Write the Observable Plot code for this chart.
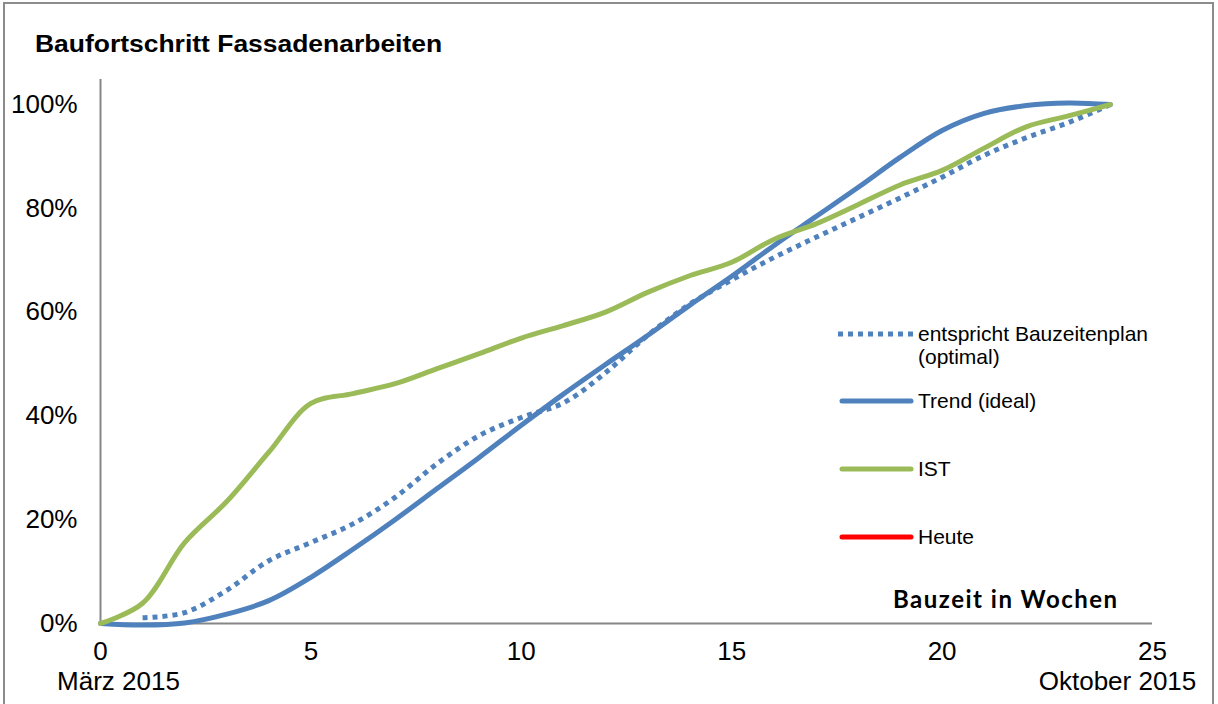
<!DOCTYPE html>
<html>
<head>
<meta charset="utf-8">
<script src="https://cdn.jsdelivr.net/npm/d3@7"></script>
<script src="https://cdn.jsdelivr.net/npm/@observablehq/plot@0.6"></script>
<style>
  body { margin: 0; background: #fff; font-family: "Liberation Sans", Arial, sans-serif; }
  #wrap { position: relative; width: 1218px; height: 704px; overflow: hidden; background: #fff; }
  #frame { position: absolute; left: 3px; top: 2px; width: 1211px; height: 760px; border: 2px solid #8c8c8c; box-sizing: border-box; pointer-events: none; }
  #title { position: absolute; left: 35px; top: 33px; font-weight: bold; font-size: 23px; line-height: 23px; white-space: nowrap; transform: scaleX(1.15); transform-origin: left top; color: #000; }
  #xlabel { position: absolute; left: 893px; top: 587px; font-family: Lato, sans-serif; font-weight: bold; font-size: 24px; line-height: 24px; letter-spacing: 1.5px; white-space: nowrap; color: #000; }
  #chart { position: absolute; left: 0; top: 0; }
  #legend { position: absolute; left: 0; top: 0; pointer-events: none; }
</style>
</head>
<body>
<div id="wrap">
  <div id="chart"></div>
  <div id="title">Baufortschritt Fassadenarbeiten</div>
  <div id="xlabel">Bauzeit in Wochen</div>
  <svg id="legend" width="1218" height="704"></svg>
  <div id="frame"></div>
</div>
<script>
// ---- data ----
const weeks = [0,1,2,3,4,5,6,7,8,9,10,11,12,13,14,15,16,17,18,19,20,21,22,23,24];
const planWeeks = [1,2,3,4,5,6,7,8,9,10,11,12,13,14,15,16,17,18,19,20,21,22,23,24];
const planPct = [1.1,2.1,6.4,12.1,15.6,19.2,24.3,30.8,36.2,39.7,42.5,48.3,55.5,61.5,66.2,70.5,74.4,78.2,82,86,90.2,93.6,96.5,100];
const trendPct = [0,-0.3,0.1,1.8,4.4,8.9,14.3,20,26,32,38.2,44.2,49.9,55.5,61.3,66.9,72.8,78.4,84,89.8,95,98.3,99.8,100.3,100];
const istPct = [0,3.9,15.6,23.5,33,42.4,44.3,46.2,49.1,52,55,57.4,60,63.8,67,69.6,74,77,80.7,84.5,87.3,91.6,95.7,97.8,100];
const xTicks = [0,5,10,15,20,25];
const yTicks = [0,0.2,0.4,0.6,0.8,1.0];
const startLabel = "März 2015";
const endLabel = "Oktober 2015";
const legendLabels = [["entspricht Bauzeitenplan","(optimal)"],["Trend (ideal)"],["IST"],["Heute"]];
const colors = { plan: "#4F81BD", trend: "#4F81BD", ist: "#9BBB59", heute: "#FF0000" };

const plan = planWeeks.map((w,i) => ({week: w, value: planPct[i]/100}));
const trend = weeks.map((w,i) => ({week: w, value: trendPct[i]/100}));
const ist = weeks.map((w,i) => ({week: w, value: istPct[i]/100}));

const plot = Plot.plot({
  width: 1218,
  height: 704,
  marginLeft: 100,
  marginRight: 66,
  marginTop: 104,
  marginBottom: 81,
  style: { fontFamily: "'Liberation Sans', Arial, sans-serif", fontSize: "26px", color: "#000", background: "transparent", overflow: "visible" },
  x: { domain: [0, 25] },
  y: { domain: [0, 1] },
  marks: [
    Plot.ruleX([0], { y1: 0, y2: 1.048, stroke: "#868686", strokeWidth: 2 }),
    Plot.ruleY([0], { stroke: "#868686", strokeWidth: 2 }),
    Plot.axisY({ ticks: yTicks, tickFormat: d => Math.round(d * 100) + "%", tickSize: 0, tickPadding: 23, label: null, fontSize: 26 }),
    Plot.axisX({ ticks: xTicks, tickFormat: d => String(d), tickSize: 0, tickPadding: 18, label: null, fontSize: 26 }),
    Plot.axisX({ ticks: [0], tickFormat: () => startLabel, tickSize: 0, tickPadding: 48, dx: 18, label: null, fontSize: 26 }),
    Plot.axisX({ ticks: [25], tickFormat: () => endLabel, tickSize: 0, tickPadding: 48, dx: -35, label: null, fontSize: 26 }),
    Plot.line(plan, { x: "week", y: "value", curve: "catmull-rom", stroke: colors.plan, strokeWidth: 5, strokeDasharray: "5,5", strokeLinecap: "butt" }),
    Plot.line(trend, { x: "week", y: "value", curve: "catmull-rom", stroke: colors.trend, strokeWidth: 5 }),
    Plot.line(ist, { x: "week", y: "value", curve: "catmull-rom", stroke: colors.ist, strokeWidth: 5 })
  ]
});
document.getElementById("chart").appendChild(plot);

// ---- legend ----
const lg = d3.select("#legend");
const legendY = [334, 401, 469, 537];
const legendStyles = [
  { stroke: colors.plan, dash: "5,5", cap: "butt" },
  { stroke: colors.trend, dash: null, cap: "round" },
  { stroke: colors.ist, dash: null, cap: "round" },
  { stroke: colors.heute, dash: null, cap: "round" }
];
legendLabels.forEach((lines, i) => {
  const s = legendStyles[i];
  lg.append("line").attr("x1", s.cap === "butt" ? 838 : 842).attr("x2", s.cap === "butt" ? 913 : 911)
    .attr("y1", legendY[i]).attr("y2", legendY[i])
    .attr("stroke", s.stroke).attr("stroke-width", 5).attr("stroke-linecap", s.cap)
    .attr("stroke-dasharray", s.dash);
  lines.forEach((t, j) => {
    lg.append("text").attr("x", 918).attr("y", legendY[i] + 7 + j * 23)
      .attr("font-family", "'Liberation Sans', Arial, sans-serif").attr("font-size", 21)
      .attr("fill", "#000").text(t);
  });
});
</script>
</body>
</html>
